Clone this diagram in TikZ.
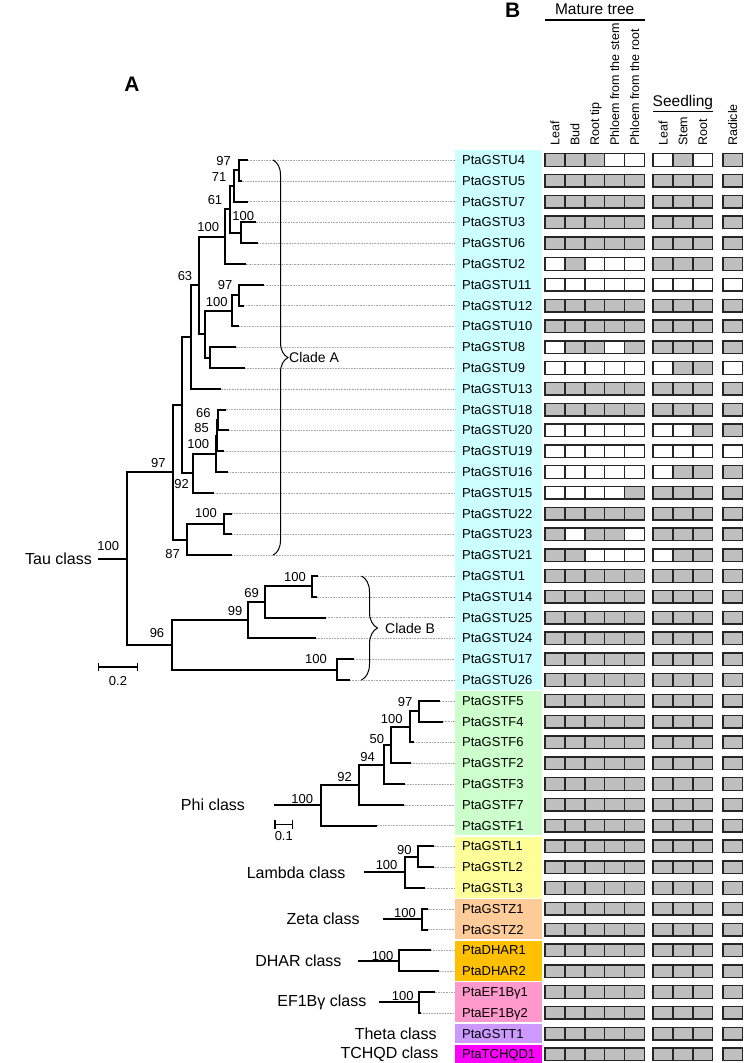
\documentclass[tikz,border=0pt]{standalone}
\usepackage{fontspec}
\setmainfont{Liberation Sans}
\usetikzlibrary{arrows, calc, decorations.pathreplacing}

\definecolor{tauC}{HTML}{CCFFFF}
\definecolor{phiC}{HTML}{CCFFCC}
\definecolor{lamC}{HTML}{FFFF99}
\definecolor{zetaC}{HTML}{FFCC99}
\definecolor{dharC}{HTML}{FFC000}
\definecolor{efC}{HTML}{FF99CC}
\definecolor{thetaC}{HTML}{CC99FF}
\definecolor{tchC}{HTML}{FF00FF}

% cladogram link: name, x of the node, upper child, lower child
\newcommand{\mkclade}[4]{%
  \coordinate (#1m) at ($(#3)!0.5!(#4)$);
  \coordinate (#1) at (#2,0 |- #1m);
  \draw[branch] (#3) -| (#1) |- (#4);
}

\begin{document}
\begin{tikzpicture}[x=1pt,y=-1pt]
    \tikzstyle{branch}=[line width=2pt]
    \tikzstyle{leader}=[densely dotted, line width=0.6pt, black!35]
    \tikzstyle{gene}=[anchor=west, inner sep=0pt, text depth=0pt, font=\fontsize{13}{15}\selectfont]
    \tikzstyle{boot}=[inner sep=0pt, font=\fontsize{13}{15}\selectfont]
    \tikzstyle{cls}=[anchor=east, inner sep=0pt, font=\fontsize{16}{18}\selectfont]
    \tikzstyle{tissue}=[rotate=90, anchor=west, inner sep=0pt, text depth=0pt, font=\fontsize{12.5}{14}\selectfont]
    \tikzstyle{group}=[anchor=base, inner sep=0pt, font=\fontsize{15.5}{18}\selectfont]
    \tikzstyle{cellbox}=[draw=black!85, line width=1.5pt]
    \tikzstyle{panel}=[inner sep=0pt, font=\fontsize{21}{24}\selectfont\bfseries]

    \useasboundingbox (0,0) rectangle (745,1063);
    \coordinate (band) at (454.6,0);

    % coloured bands behind the names
    \foreach \a/\b/\c in {1/26/tauC, 27/33/phiC, 34/36/lamC, 37/38/zetaC, 39/40/dharC, 41/42/efC, 43/43/thetaC, 44/44/tchC}
        \fill[\c] (454.6, {160+20.8*(\a-1)-9.6}) rectangle (542, {160+20.8*(\b-1)+9.6});

    % gene names, tips and leaders
    \foreach \n/\id/\tx in {1/GSTU4/248, 2/GSTU5/241.7, 3/GSTU7/248, 4/GSTU3/255.7, 5/GSTU6/258.3,
        6/GSTU2/245.5, 7/GSTU11/264, 8/GSTU12/244.3, 9/GSTU10/239, 10/GSTU8/235.7, 11/GSTU9/245,
        12/GSTU13/220.5, 13/GSTU18/225.7, 14/GSTU20/229, 15/GSTU19/224, 16/GSTU16/228.3,
        17/GSTU15/214, 18/GSTU22/232.3, 19/GSTU23/232.3, 20/GSTU21/232.3, 21/GSTU1/318.3,
        22/GSTU14/316.7, 23/GSTU25/326, 24/GSTU24/316, 25/GSTU17/354, 26/GSTU26/350,
        27/GSTF5/440, 28/GSTF4/443, 29/GSTF6/414.4, 30/GSTF2/411, 31/GSTF3/405, 32/GSTF7/403.7,
        33/GSTF1/376.5, 34/GSTL1/433.5, 35/GSTL2/433.5, 36/GSTL3/425, 37/GSTZ1/427.8,
        38/GSTZ2/427.8, 39/DHAR1/431.2, 40/DHAR2/438.5}{
        \node[gene] (g\id) at (462, {160+20.8*(\n-1)}) {Pta\id};
        \coordinate (t\id) at (\tx, {160+20.8*(\n-1)});
        \draw[leader] (t\id) -- (band |- g\id);
    }
    \node[gene] (gEF1) at (462, 992) {PtaEF1Bγ1};
    \node[gene] (gEF2) at (462, 1012.8) {PtaEF1Bγ2};
    \node[gene] (gGSTT1) at (462, 1033.6) {PtaGSTT1};
    \node[gene] (gTCHQD1) at (462, 1054.4) {PtaTCHQD1};
    \coordinate (tEF1) at (434.5, 992);
    \coordinate (tEF2) at (421, 1012.8);
    \draw[leader] (tEF1) -- (band |- gEF1);
    \draw[leader] (tEF2) -- (band |- gEF2);

    % Tau class
    \mkclade{n97a}{239}{tGSTU4}{tGSTU5}
    \mkclade{n71}{234.3}{n97a}{tGSTU7}
    \mkclade{n100a}{241}{tGSTU3}{tGSTU6}
    \mkclade{n61}{230.3}{n71}{n100a}
    \mkclade{n100b}{225}{n61}{tGSTU2}
    \mkclade{n97b}{239}{tGSTU11}{tGSTU12}
    \mkclade{n100c}{231.7}{n97b}{tGSTU10}
    \mkclade{nU8}{210}{tGSTU8}{tGSTU9}
    \mkclade{nx}{205.3}{n100c}{nU8}
    \mkclade{ny}{199.3}{n100b}{nx}
    \mkclade{n63}{191}{ny}{tGSTU13}
    \mkclade{n66}{218.3}{tGSTU18}{tGSTU20}
    \mkclade{n85}{217.3}{n66}{tGSTU19}
    \mkclade{n100d}{216}{n85}{tGSTU16}
    \mkclade{n92}{193.3}{n100d}{tGSTU15}
    \mkclade{nz}{181.7}{n63}{n92}
    \mkclade{n100e}{224}{tGSTU22}{tGSTU23}
    \mkclade{n87}{187.3}{n100e}{tGSTU21}
    \mkclade{n97c}{172.7}{nz}{n87}
    \mkclade{n100f}{312.3}{tGSTU1}{tGSTU14}
    \mkclade{n69}{265}{n100f}{tGSTU25}
    \mkclade{n99}{248.3}{n69}{tGSTU24}
    \mkclade{n100g}{336.7}{tGSTU17}{tGSTU26}
    \mkclade{n96}{172}{n99}{n100g}
    \mkclade{tau}{126.7}{n97c}{n96}
    \coordinate (tauS) at (98,0 |- tau);
    \draw[branch] (tauS) -- (tau);
    \node[cls] (lTau) at (92,0 |- tau) {Tau class};

    \node[boot] (b1) at (223.5,161.3) {97};
    \node[boot] (b2) at (219,177.3) {71};
    \node[boot] (b3) at (215,200) {61};
    \node[boot] (b4) at (243.3,216) {100};
    \node[boot] (b5) at (208.3,226.7) {100};
    \node[boot] (b6) at (185,276) {63};
    \node[boot] (b7) at (225,285) {97};
    \node[boot] (b8) at (216.7,301.7) {100};
    \node[boot] (b9) at (203.3,412.7) {66};
    \node[boot] (b10) at (201.7,427.7) {85};
    \node[boot] (b11) at (198.3,444) {100};
    \node[boot] (b12) at (158.3,462.7) {97};
    \node[boot] (b13) at (181.7,484) {92};
    \node[boot] (b14) at (206,513.3) {100};
    \node[boot] (b15) at (172.7,554.3) {87};
    \node[boot] (b16) at (108.3,546) {100};
    \node[boot] (b17) at (295,577.3) {100};
    \node[boot] (b18) at (251.7,593.3) {69};
    \node[boot] (b19) at (235,610.7) {99};
    \node[boot] (b20) at (157,633) {96};
    \node[boot] (b21) at (316,659.3) {100};

    % clades of Tau
    \draw[line width=1pt, decorate, decoration={brace, amplitude=15pt}] (273,160) -- (273,555.2);
    \node[anchor=west, inner sep=0pt, font=\fontsize{14}{16}\selectfont] (cA) at (289,357.6) {Clade A};
    \draw[line width=1pt, decorate, decoration={brace, amplitude=16pt}] (361.5,576) -- (361.5,680);
    \node[anchor=west, inner sep=0pt, font=\fontsize{14}{16}\selectfont] (cB) at (385,628) {Clade B};

    % scale bar 0.2
    \draw[line width=1.2pt, |-|] (98,667) -- (138,667);
    \node[boot] (s2) at (118,681) {0.2};

    % Phi class
    \mkclade{p97}{419}{tGSTF5}{tGSTF4}
    \mkclade{p100}{410}{p97}{tGSTF6}
    \mkclade{p50}{391}{p100}{tGSTF2}
    \mkclade{p94}{383.6}{p50}{tGSTF3}
    \mkclade{p92}{359.1}{p94}{tGSTF7}
    \mkclade{phi}{321.3}{p92}{tGSTF1}
    \coordinate (phiS) at (273.7,0 |- phi);
    \draw[branch] (phiS) -- (phi);
    \node[cls] (lPhi) at (245.2,0 |- phi) {Phi class};
    \node[boot] (c1) at (405,701.7) {97};
    \node[boot] (c2) at (391.7,719.3) {100};
    \node[boot] (c3) at (376.9,739.4) {50};
    \node[boot] (c4) at (367.5,756.8) {94};
    \node[boot] (c5) at (344.7,777) {92};
    \node[boot] (c6) at (302.2,799.4) {100};
    \draw[line width=1.2pt, |-|] (274.4,824.5) -- (293.1,824.5);
    \node[boot] (s1) at (283.8,835.6) {0.1};

    % Lambda class
    \mkclade{l90}{417.8}{tGSTL1}{tGSTL2}
    \mkclade{lam}{405}{l90}{tGSTL3}
    \coordinate (lamS) at (364.2,0 |- lam);
    \draw[branch] (lamS) -- (lam);
    \node[cls] (lLam) at (345.7,0 |- lam) {Lambda class};
    \node[boot] (d1) at (404.4,850) {90};
    \node[boot] (d2) at (386.6,864.7) {100};

    % Zeta class
    \mkclade{zeta}{421.8}{tGSTZ1}{tGSTZ2}
    \coordinate (zetaS) at (383.2,0 |- zeta);
    \draw[branch] (zetaS) -- (zeta);
    \node[cls] (lZeta) at (359.8,0 |- zeta) {Zeta class};
    \node[boot] (e1) at (405,913.3) {100};

    % DHAR class
    \mkclade{dhar}{399.3}{tDHAR1}{tDHAR2}
    \coordinate (dharS) at (357.5,0 |- dhar);
    \draw[branch] (dharS) -- (dhar);
    \node[cls] (lDhar) at (341.7,0 |- dhar) {DHAR class};
    \node[boot] (f1) at (382.6,956.2) {100};

    % EF1Bgamma class
    \mkclade{ef}{419.4}{tEF1}{tEF2}
    \coordinate (efS) at (379.2,0 |- ef);
    \draw[branch] (efS) -- (ef);
    \node[cls] (lEf) at (366.5,0 |- ef) {EF1Bγ class};
    \node[boot] (h1) at (402.7,996.4) {100};

    \node[cls] (lTheta) at (436.8,0 |- gGSTT1) {Theta class};
    \node[cls] (lTch) at (438.5,0 |- gTCHQD1) {TCHQD class};

    % expression panel
    \foreach \r in {1,...,44}
        \foreach \c in {0,...,8}{
            \pgfmathsetmacro\cx{{545,564.9,584.8,604.7,624.6,653,672.9,692.8,722.8}[\c]}
            \draw[cellbox, fill=gray!50] (\cx, {160+20.8*(\r-1)-6.3}) rectangle ++(19.9,12.6);
        }
    \foreach \r/\cols in {1/{3,4,5,7}, 6/{0,2,3,4}, 7/{0,...,8}, 10/{0,3}, 11/{0,1,2,3,4,5,8},
        14/{0,...,6}, 15/{0,...,8}, 16/{0,...,5}, 17/{0,...,3}, 19/{1,4}, 20/{2,3,4,5}}
        \foreach \c in \cols{
            \pgfmathsetmacro\cx{{545,564.9,584.8,604.7,624.6,653,672.9,692.8,722.8}[\c]}
            \draw[cellbox, fill=white] (\cx, {160+20.8*(\r-1)-6.3}) rectangle ++(19.9,12.6);
        }

    % column heads
    \foreach \x/\t in {554.9/Leaf, 574.8/Bud, 594.7/Root tip, 614.6/Phloem from the stem,
        634.5/Phloem from the root, 663/Leaf, 682.9/Stem, 702.7/Root, 732.7/Radicle}
        \node[tissue] at (\x,146) {\t};
    \node[group] (hMat) at (594.7,14.3) {Mature tree};
    \draw[line width=1.5pt] (545,20) -- (644.5,20);
    \node[group] (hSeed) at (682.9,106) {Seedling};
    \draw[line width=1.5pt] (653,111.7) -- (712.7,111.7);

    \node[panel] (pA) at (132,84) {A};
    \node[panel] (pB) at (512.7,10.7) {B};
\end{tikzpicture}
\end{document}
